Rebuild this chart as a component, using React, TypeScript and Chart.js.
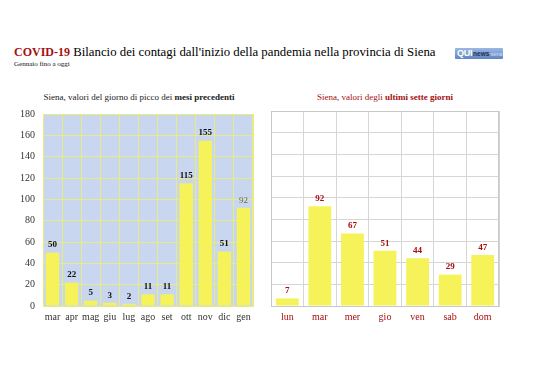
import React, { useEffect, useRef } from "react";
import { Chart, registerables } from "chart.js";

Chart.register(...registerables);

const monthLabels = ["mar", "apr", "mag", "giu", "lug", "ago", "set", "ott", "nov", "dic", "gen"];
const monthValues = [50, 22, 5, 3, 2, 11, 11, 115, 155, 51, 92];
const dayLabels = ["lun", "mar", "mer", "gio", "ven", "sab", "dom"];
const dayValues = [7, 92, 67, 51, 44, 29, 47];
const yMax = 180;
const yStep = 20;

const FONT = "'Liberation Serif', 'DejaVu Serif', serif";
const BAR = "#f5f25a";
const DARKRED = "#a50f12";

const labelPlugin = {
  id: "barLabels",
  afterDatasetsDraw(chart: any, _args: any, opts: any) {
    const ctx = chart.ctx;
    const meta = chart.getDatasetMeta(0);
    const data = chart.data.datasets[0].data;
    ctx.save();
    ctx.textAlign = "center";
    ctx.textBaseline = "bottom";
    meta.data.forEach((bar: any, i: number) => {
      const st = opts.style ? opts.style(i) : { color: "#000", weight: "bold" };
      ctx.fillStyle = st.color;
      ctx.font = `${st.weight} 9px ${FONT}`;
      ctx.fillText(String(data[i]), bar.x, bar.y - 3);
    });
    ctx.restore();
  },
};

const plotBgPlugin = {
  id: "plotBg",
  beforeDraw(chart: any, _args: any, opts: any) {
    const { ctx, chartArea } = chart;
    if (!chartArea) return;
    ctx.save();
    ctx.fillStyle = opts.color || "transparent";
    ctx.fillRect(chartArea.left, chartArea.top, chartArea.right - chartArea.left, chartArea.bottom - chartArea.top);
    ctx.restore();
  },
  afterDatasetsDraw(chart: any, _args: any, opts: any) {
    const { ctx, chartArea } = chart;
    if (!chartArea || !opts.border) return;
    ctx.save();
    ctx.strokeStyle = opts.border;
    ctx.lineWidth = 1;
    ctx.strokeRect(chartArea.left + 0.5, chartArea.top + 0.5, chartArea.right - chartArea.left - 1, chartArea.bottom - chartArea.top);
    ctx.restore();
  },
};

function BarChart(props: {
  labels: string[];
  values: number[];
  width: number;
  height: number;
  padding: any;
  yLabels: boolean;
  bg: string;
  grid: string;
  border: string;
  tickColor: string;
  labelStyle: (i: number) => { color: string; weight: string };
}) {
  const ref = useRef<HTMLCanvasElement>(null);
  useEffect(() => {
    const chart = new Chart(ref.current as HTMLCanvasElement, {
      type: "bar",
      data: {
        labels: props.labels,
        datasets: [
          {
            data: props.values,
            backgroundColor: BAR,
            borderWidth: 0,
            categoryPercentage: 1,
            barPercentage: 0.7,
          },
        ],
      },
      options: {
        animation: false,
        responsive: false,
        layout: { padding: props.padding },
        plugins: {
          legend: { display: false },
          tooltip: { enabled: false },
          barLabels: { style: props.labelStyle },
          plotBg: { color: props.bg, border: props.border },
        } as any,
        scales: {
          x: {
            grid: { color: props.grid, drawTicks: false, offset: true },
            border: { color: props.border },
            ticks: {
              color: props.tickColor,
              font: { family: FONT, size: 10 },
              padding: 5,
              autoSkip: false,
              maxRotation: 0,
              minRotation: 0,
            },
            afterFit: (s: any) => {
              s.height = 24;
            },
          },
          y: {
            min: 0,
            max: yMax,
            grid: { color: props.grid, drawTicks: false },
            border: { color: props.border },
            ticks: {
              display: props.yLabels,
              stepSize: yStep,
              color: "#333",
              font: { family: FONT, size: 10 },
              padding: 8,
            },
            afterFit: (s: any) => {
              s.width = props.yLabels ? 35 : 0;
            },
          },
        },
      },
      plugins: [plotBgPlugin, labelPlugin],
    });
    return () => chart.destroy();
  }, []);
  return <canvas ref={ref} width={props.width} height={props.height} style={{ width: props.width, height: props.height, display: "block" }} />;
}

export default function App() {
  return (
    <div style={{ position: "absolute", left: 0, top: 0, width: 538, height: 380, background: "#fff", fontFamily: FONT, overflow: "hidden" }}>
      <div style={{ position: "absolute", left: 14, top: 43, whiteSpace: "nowrap", lineHeight: "16px" }}>
        <span style={{ color: DARKRED, fontWeight: "bold", fontSize: 12 }}>COVID-19</span>
        <span style={{ color: "#000", fontSize: 12.8 }}> Bilancio dei contagi dall'inizio della pandemia nella provincia di Siena</span>
      </div>
      <div style={{ position: "absolute", left: 14, top: 60, fontSize: 7, color: "#111", whiteSpace: "nowrap", lineHeight: "9px" }}>
        Gennaio fino a oggi
      </div>
      <div
        style={{
          position: "absolute",
          left: 455,
          top: 48,
          width: 48,
          height: 11,
          background: "linear-gradient(#9bb8e2, #5f86c2)",
          borderRadius: 1,
          fontFamily: "'Liberation Sans', sans-serif",
          lineHeight: "11px",
          whiteSpace: "nowrap",
          overflow: "hidden",
          display: "flex",
          alignItems: "baseline",
        }}
      >
        <span style={{ color: "#fff", fontWeight: "bold", fontSize: 9, marginLeft: 2, letterSpacing: -0.3 }}>QUI</span>
        <span style={{ color: "#1c2c55", fontWeight: "bold", fontSize: 6.5, marginLeft: 1 }}>news</span>
        <span style={{ color: "#d5e0f3", fontSize: 5, marginLeft: 1 }}>siena</span>
      </div>
      <div style={{ position: "absolute", left: 0, width: 278, top: 91, textAlign: "center", fontSize: 9, color: "#222", whiteSpace: "nowrap", lineHeight: "12px" }}>
        Siena, valori del giorno di picco dei <b>mesi precedenti</b>
      </div>
      <div style={{ position: "absolute", left: 285, width: 200, top: 91, textAlign: "center", fontSize: 9, color: DARKRED, whiteSpace: "nowrap", lineHeight: "12px" }}>
        Siena, valori degli <b>ultimi sette giorni</b>
      </div>
      <div style={{ position: "absolute", left: 0, top: 100 }}>
        <BarChart
          labels={monthLabels}
          values={monthValues}
          width={262}
          height={230}
          padding={{ left: 8, top: 11, right: 9, bottom: 0 }}
          yLabels={true}
          bg="#c8d6ef"
          grid="#e8eb7e"
          border="#e8eb7e"
          tickColor="#333"
          labelStyle={(i) => (i === monthValues.length - 1 ? { color: "#666", weight: "normal" } : { color: "#111", weight: "bold" })}
        />
      </div>
      <div style={{ position: "absolute", left: 262, top: 100 }}>
        <BarChart
          labels={dayLabels}
          values={dayValues}
          width={276}
          height={230}
          padding={{ left: 9, top: 11, right: 39, bottom: 0 }}
          yLabels={false}
          bg="#ffffff"
          grid="#d6d6d6"
          border="#c8c8c8"
          tickColor={DARKRED}
          labelStyle={() => ({ color: DARKRED, weight: "bold" })}
        />
      </div>
    </div>
  );
}
